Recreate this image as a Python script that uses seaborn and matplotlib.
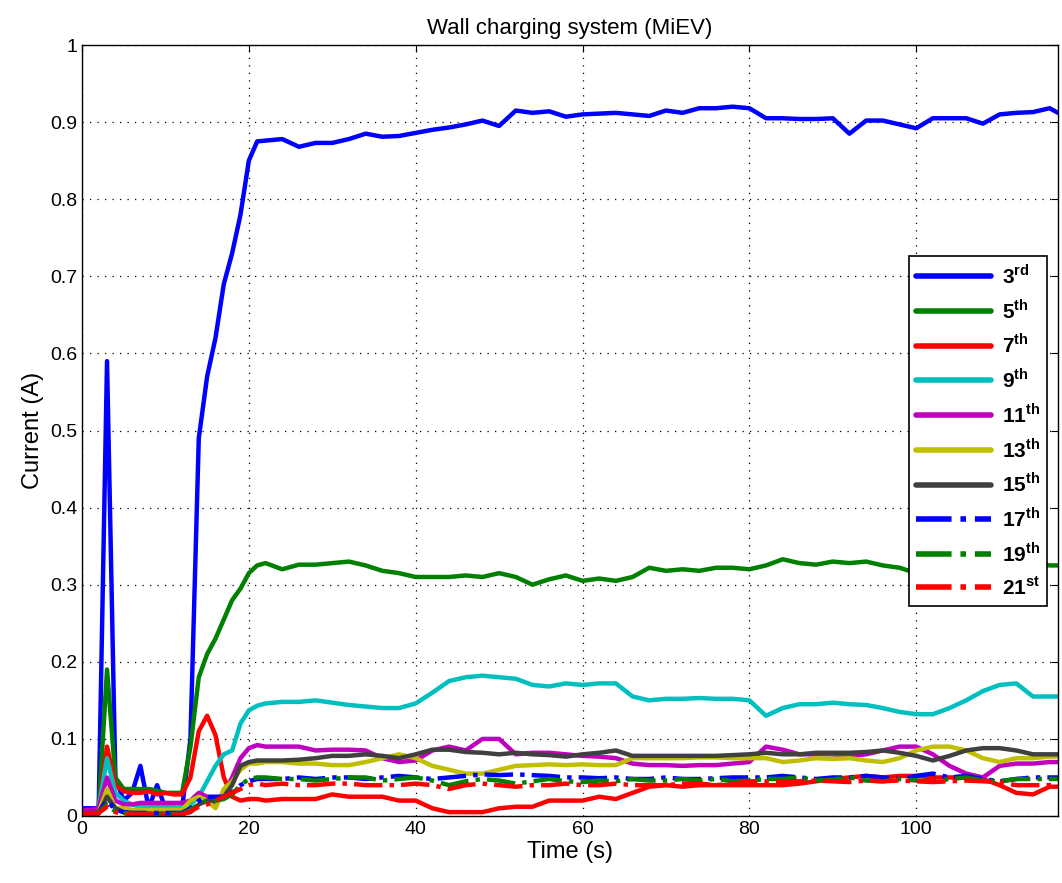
import numpy as np
import pandas as pd
import seaborn as sns
import matplotlib.pyplot as plt

t = list(range(0, 23)) + list(range(24, 117, 2)) + [117]

h3 = [0.01, 0.01, 0.01, 0.59, 0.05, 0.02, 0.03, 0.065, 0.01, 0.04, 0.01, 0.01, 0.01, 0.1, 0.49, 0.57, 0.62, 0.69, 0.73, 0.78, 0.85, 0.875, 0.876,
      0.878, 0.868, 0.873, 0.873, 0.878, 0.885, 0.881, 0.882, 0.886, 0.890, 0.893, 0.897, 0.902, 0.895, 0.915, 0.912, 0.914, 0.907, 0.91, 0.911,
      0.912, 0.91, 0.908, 0.915, 0.912, 0.918, 0.918, 0.92, 0.918, 0.905, 0.905, 0.904, 0.904, 0.905, 0.885, 0.902, 0.902, 0.897, 0.892, 0.905,
      0.905, 0.905, 0.898, 0.910, 0.912, 0.913, 0.918, 0.912]
h5 = [0.005, 0.005, 0.01, 0.19, 0.05, 0.035, 0.035, 0.035, 0.035, 0.033, 0.03, 0.03, 0.03, 0.09, 0.18, 0.21, 0.23, 0.255, 0.28, 0.295, 0.315, 0.325, 0.328,
      0.32, 0.326, 0.326, 0.328, 0.33, 0.325, 0.318, 0.315, 0.31, 0.31, 0.31, 0.312, 0.31, 0.315, 0.31, 0.3, 0.307, 0.312, 0.305, 0.308,
      0.305, 0.31, 0.322, 0.318, 0.32, 0.318, 0.322, 0.322, 0.32, 0.325, 0.333, 0.328, 0.326, 0.33, 0.328, 0.33, 0.325, 0.322, 0.315, 0.31,
      0.31, 0.32, 0.325, 0.325, 0.33, 0.328, 0.325, 0.325]
h7 = [0.005, 0.005, 0.01, 0.09, 0.04, 0.032, 0.03, 0.03, 0.032, 0.028, 0.03, 0.028, 0.028, 0.05, 0.11, 0.13, 0.105, 0.05, 0.025, 0.02, 0.022, 0.022, 0.02,
      0.022, 0.022, 0.022, 0.028, 0.025, 0.025, 0.025, 0.02, 0.02, 0.01, 0.005, 0.005, 0.005, 0.01, 0.012, 0.012, 0.02, 0.02, 0.02, 0.025,
      0.022, 0.03, 0.038, 0.04, 0.038, 0.04, 0.04, 0.04, 0.04, 0.04, 0.04, 0.042, 0.045, 0.048, 0.05, 0.052, 0.05, 0.052, 0.052, 0.05,
      0.05, 0.05, 0.048, 0.04, 0.03, 0.028, 0.038, 0.038]
h9 = [0.005, 0.005, 0.01, 0.075, 0.03, 0.02, 0.015, 0.012, 0.012, 0.012, 0.012, 0.012, 0.012, 0.015, 0.025, 0.045, 0.065, 0.08, 0.085, 0.12, 0.137, 0.143, 0.146,
      0.148, 0.148, 0.15, 0.147, 0.144, 0.142, 0.14, 0.14, 0.146, 0.16, 0.175, 0.18, 0.182, 0.18, 0.178, 0.17, 0.168, 0.172, 0.17, 0.172,
      0.172, 0.155, 0.15, 0.152, 0.152, 0.153, 0.152, 0.152, 0.15, 0.13, 0.14, 0.145, 0.145, 0.147, 0.145, 0.144, 0.14, 0.135, 0.132, 0.132,
      0.14, 0.15, 0.162, 0.17, 0.172, 0.155, 0.155, 0.155]
h11 = [0.008, 0.008, 0.01, 0.05, 0.02, 0.015, 0.015, 0.017, 0.017, 0.017, 0.017, 0.017, 0.017, 0.02, 0.03, 0.025, 0.015, 0.03, 0.05, 0.075, 0.088, 0.092, 0.09,
       0.09, 0.09, 0.085, 0.086, 0.086, 0.085, 0.075, 0.07, 0.072, 0.085, 0.09, 0.085, 0.1, 0.1, 0.08, 0.082, 0.082, 0.08, 0.078, 0.077,
       0.075, 0.068, 0.066, 0.066, 0.065, 0.066, 0.066, 0.068, 0.07, 0.09, 0.086, 0.08, 0.08, 0.08, 0.078, 0.08, 0.085, 0.09, 0.09, 0.08,
       0.065, 0.055, 0.05, 0.065, 0.068, 0.068, 0.07, 0.07]
h13 = [0.003, 0.003, 0.005, 0.035, 0.01, 0.01, 0.008, 0.008, 0.008, 0.008, 0.008, 0.008, 0.008, 0.02, 0.025, 0.02, 0.01, 0.035, 0.045, 0.06, 0.068, 0.068, 0.07,
       0.07, 0.068, 0.068, 0.066, 0.066, 0.07, 0.075, 0.08, 0.075, 0.065, 0.06, 0.055, 0.055, 0.06, 0.065, 0.066, 0.067, 0.066, 0.067, 0.066,
       0.066, 0.075, 0.075, 0.075, 0.075, 0.076, 0.076, 0.075, 0.075, 0.075, 0.07, 0.072, 0.075, 0.074, 0.075, 0.072, 0.07, 0.075, 0.085, 0.09,
       0.09, 0.085, 0.075, 0.07, 0.075, 0.075, 0.077, 0.077]
h15 = [0.002, 0.002, 0.003, 0.025, 0.01, 0.005, 0.003, 0.003, 0.003, 0.003, 0.003, 0.003, 0.003, 0.005, 0.015, 0.02, 0.02, 0.025, 0.04, 0.065, 0.07, 0.072, 0.072,
       0.072, 0.073, 0.075, 0.078, 0.078, 0.08, 0.078, 0.075, 0.08, 0.086, 0.086, 0.083, 0.082, 0.08, 0.082, 0.08, 0.079, 0.077, 0.08, 0.082,
       0.085, 0.078, 0.078, 0.078, 0.078, 0.078, 0.078, 0.079, 0.08, 0.082, 0.08, 0.08, 0.082, 0.082, 0.082, 0.083, 0.085, 0.082, 0.078, 0.072,
       0.078, 0.085, 0.088, 0.088, 0.085, 0.08, 0.08, 0.08]
h17 = [0.003, 0.003, 0.005, 0.02, 0.008, 0.005, 0.004, 0.004, 0.004, 0.004, 0.004, 0.004, 0.004, 0.01, 0.02, 0.025, 0.025, 0.025, 0.03, 0.04, 0.045, 0.048, 0.048,
       0.048, 0.05, 0.048, 0.05, 0.05, 0.048, 0.05, 0.052, 0.05, 0.048, 0.05, 0.052, 0.054, 0.053, 0.054, 0.053, 0.052, 0.05, 0.05, 0.049,
       0.05, 0.048, 0.048, 0.05, 0.048, 0.048, 0.049, 0.05, 0.05, 0.05, 0.052, 0.05, 0.048, 0.05, 0.05, 0.052, 0.05, 0.048, 0.052, 0.055,
       0.05, 0.052, 0.048, 0.045, 0.048, 0.05, 0.05, 0.05]
h19 = [0.003, 0.003, 0.005, 0.015, 0.006, 0.004, 0.003, 0.003, 0.003, 0.003, 0.003, 0.003, 0.003, 0.008, 0.015, 0.02, 0.02, 0.022, 0.028, 0.04, 0.048, 0.05, 0.05,
       0.048, 0.048, 0.046, 0.048, 0.05, 0.05, 0.046, 0.048, 0.05, 0.046, 0.04, 0.045, 0.048, 0.046, 0.042, 0.045, 0.048, 0.045, 0.044, 0.046,
       0.045, 0.048, 0.046, 0.046, 0.048, 0.046, 0.048, 0.045, 0.046, 0.048, 0.048, 0.05, 0.046, 0.047, 0.05, 0.046, 0.045, 0.048, 0.046, 0.045,
       0.048, 0.05, 0.046, 0.045, 0.048, 0.048, 0.048, 0.048]
h21 = [0.003, 0.003, 0.004, 0.012, 0.005, 0.003, 0.002, 0.002, 0.002, 0.002, 0.002, 0.002, 0.002, 0.006, 0.012, 0.015, 0.02, 0.025, 0.03, 0.035, 0.04, 0.042, 0.04,
       0.042, 0.04, 0.04, 0.042, 0.042, 0.04, 0.04, 0.04, 0.042, 0.04, 0.035, 0.04, 0.042, 0.04, 0.038, 0.04, 0.04, 0.042, 0.04, 0.04,
       0.042, 0.04, 0.04, 0.04, 0.042, 0.042, 0.04, 0.042, 0.045, 0.045, 0.044, 0.045, 0.046, 0.045, 0.044, 0.046, 0.045, 0.046, 0.045, 0.044,
       0.045, 0.046, 0.045, 0.044, 0.04, 0.04, 0.04, 0.04]

labels = [r'3$^{\mathbf{rd}}$', r'5$^{\mathbf{th}}$', r'7$^{\mathbf{th}}$', r'9$^{\mathbf{th}}$',
          r'11$^{\mathbf{th}}$', r'13$^{\mathbf{th}}$', r'15$^{\mathbf{th}}$', r'17$^{\mathbf{th}}$',
          r'19$^{\mathbf{th}}$', r'21$^{\mathbf{st}}$']
series = [h3, h5, h7, h9, h11, h13, h15, h17, h19, h21]
colors = ['#0000ff', '#008000', '#ff0000', '#00bfbf', '#bf00bf', '#bfbf00',
          '#404040', '#0000ff', '#008000', '#ff0000']
styles = ['-'] * 7 + ['-.'] * 3

sns.set_style('white')
plt.rcParams['font.family'] = ['Liberation Sans', 'DejaVu Sans']
plt.rcParams['mathtext.fontset'] = 'custom'
plt.rcParams['mathtext.bf'] = 'Liberation Sans:bold'
plt.rcParams['text.color'] = 'black'
plt.rcParams['axes.labelcolor'] = 'black'
plt.rcParams['xtick.color'] = 'black'
plt.rcParams['ytick.color'] = 'black'

fig = plt.figure(figsize=(10.62, 8.83), dpi=100)
ax = fig.add_axes([82 / 1062, 1 - 816 / 883, 976 / 1062, 771 / 883])

for lab, vals, c, ls in zip(labels, series, colors, styles):
    sns.lineplot(x=t, y=vals, ax=ax, color=c, linestyle=ls, linewidth=3.2, label=lab)

ax.set_xlim(0, 117)
ax.set_ylim(0, 1)
ax.set_xticks([0, 20, 40, 60, 80, 100])
ax.set_yticks(np.arange(0, 1.01, 0.1))
ax.set_yticklabels(['0', '0.1', '0.2', '0.3', '0.4', '0.5', '0.6', '0.7', '0.8', '0.9', '1'])
ax.tick_params(labelsize=14, direction='in', length=5, right=True, top=True)
ax.grid(True, color='black', linestyle=(0, (1, 5)), linewidth=0.9)
for s in ax.spines.values():
    s.set_color('black')
    s.set_linewidth(1)
ax.set_xlabel('Time (s)', fontsize=17, labelpad=2)
ax.set_ylabel('Current (A)', fontsize=17, labelpad=4)
ax.set_title('Wall charging system (MiEV)', fontsize=16, pad=8)

leg = ax.legend(loc='upper right', bbox_to_anchor=(0.989, 0.726), borderaxespad=0,
                frameon=True, framealpha=1,
                fancybox=False, edgecolor='black', prop={'size': 15, 'weight': 'bold'},
                handlelength=3.6, handletextpad=0.5, labelspacing=0.52, borderpad=0.35)
leg.get_frame().set_linewidth(1.2)
for ln in leg.get_lines():
    ln.set_linewidth(4)

fig.savefig('out.png', dpi=100)
